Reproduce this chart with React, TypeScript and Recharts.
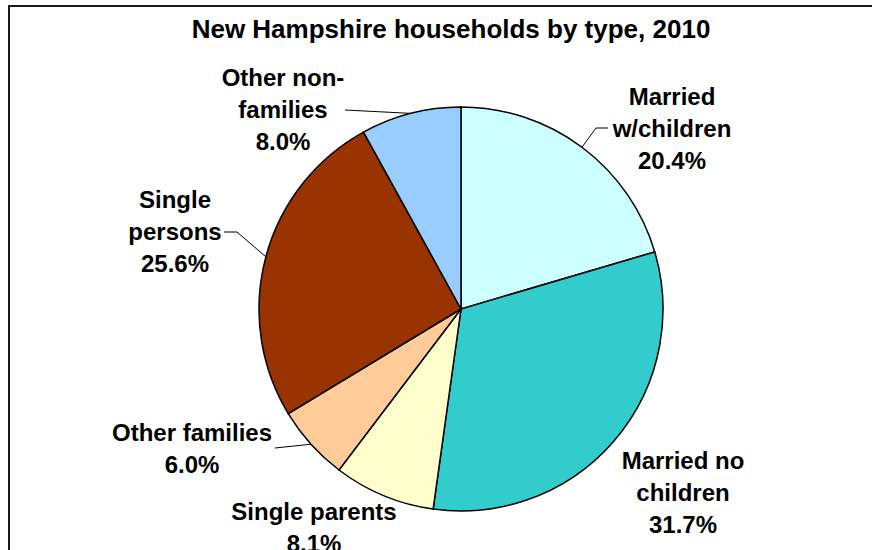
import { Cell, Pie, PieChart } from "recharts";

const CATEGORIES = [
  "Married w/children",
  "Married no children",
  "Single parents",
  "Other families",
  "Single persons",
  "Other non-families"
];
const VALUES = [20.4, 31.7, 8.1, 6.0, 25.6, 8.0];
const LABEL_LINES = [
  ["Married", "w/children"],
  ["Married no", "children"],
  ["Single parents"],
  ["Other families"],
  ["Single", "persons"],
  ["Other non-", "families"]
];

const COLORS = ["#ccffff", "#33cccc", "#ffffcc", "#ffcc99", "#993300", "#99ccff"];

// label block centre (x, first line y) and leader line points (from text side to pie edge)
const LABEL_LAYOUT: { x: number; y: number; leader: number[][] | null }[] = [
  { x: 672, y: 96, leader: [[608, 128], [596, 128]] },
  { x: 683, y: 460, leader: null },
  { x: 314, y: 511, leader: null },
  { x: 192, y: 432, leader: [[275, 448]] },
  { x: 175, y: 199, leader: [[224, 232], [237, 232]] },
  { x: 283, y: 77, leader: [[345, 110]] }
];

const LINE_H = 32;
const FONT = '"Liberation Sans", Arial, sans-serif';

const data = CATEGORIES.map((name, i) => ({ name, value: VALUES[i] }));

function renderLabel(props: any) {
  const { cx, cy, midAngle, outerRadius, index, value } = props;
  const rad = Math.PI / 180;
  const ex = cx + outerRadius * Math.cos(-midAngle * rad);
  const ey = cy + outerRadius * Math.sin(-midAngle * rad);
  const lay = LABEL_LAYOUT[index];
  const lines = [...LABEL_LINES[index], `${value.toFixed(1)}%`];
  const pts = lay.leader ? [...lay.leader, [ex, ey]] : null;
  return (
    <g key={`lbl-${index}`}>
      {pts && (
        <polyline
          points={pts.map((p) => p.join(",")).join(" ")}
          fill="none"
          stroke="#000"
          strokeWidth={1}
        />
      )}
      {lines.map((t, j) => (
        <text
          key={j}
          x={lay.x}
          y={lay.y + j * LINE_H}
          textAnchor="middle"
          dominantBaseline="central"
          fontFamily={FONT}
          fontWeight={700}
          fontSize={24}
          fill="#000"
        >
          {t}
        </text>
      ))}
    </g>
  );
}

export default function App() {
  return (
    <div style={{ position: "absolute", left: 0, top: 0, width: 872, height: 550, background: "#fff", overflow: "hidden" }}>
      <div
        style={{
          position: "absolute",
          left: 8,
          top: 5,
          width: 870,
          height: 550,
          borderTop: "2px solid #1a1a1a",
          borderLeft: "2px solid #1a1a1a",
          boxSizing: "border-box"
        }}
      />
      <div style={{ position: "absolute", left: 0, top: 0 }}>
        <PieChart width={872} height={550} margin={{ top: 0, right: 0, bottom: 0, left: 0 }}>
          <text
            x={451}
            y={29}
            textAnchor="middle"
            dominantBaseline="central"
            fontFamily={FONT}
            fontWeight={700}
            fontSize={26}
            fill="#000"
          >
            New Hampshire households by type, 2010
          </text>
          <Pie
            data={data}
            dataKey="value"
            nameKey="name"
            cx={461}
            cy={309}
            outerRadius={202}
            startAngle={90}
            endAngle={-270}
            stroke="#000"
            strokeWidth={1.5}
            label={renderLabel}
            labelLine={false}
            isAnimationActive={false}
          >
            {data.map((d, i) => (
              <Cell key={d.name} fill={COLORS[i]} />
            ))}
          </Pie>
        </PieChart>
      </div>
    </div>
  );
}
